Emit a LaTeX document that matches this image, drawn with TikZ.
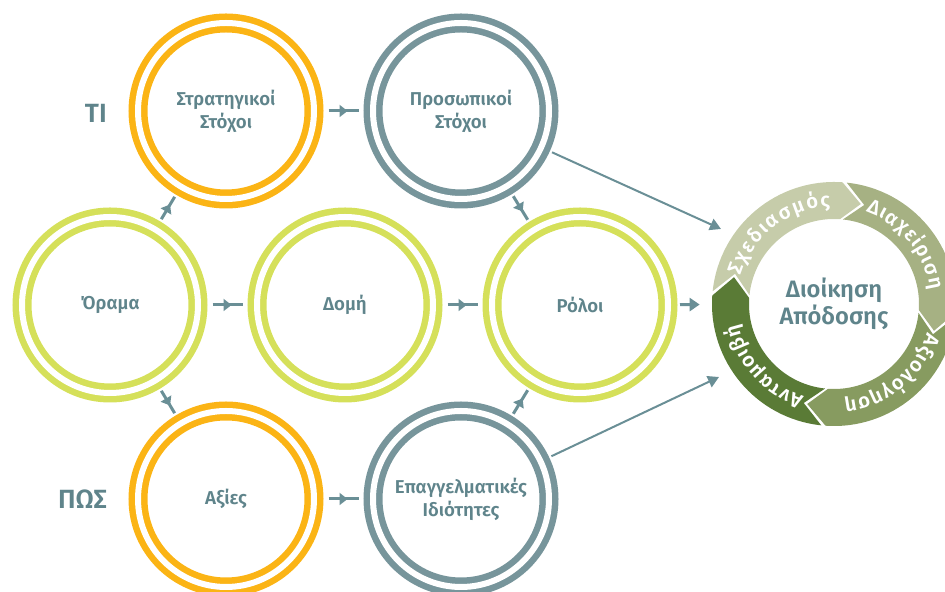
\documentclass[tikz,border=0pt]{standalone}
\usepackage{fontspec}
\setmainfont{Fira Sans}[BoldFont={Fira Sans SemiBold}]
\usetikzlibrary{arrows.meta,decorations.markings,decorations.text}
\definecolor{ringorange}{HTML}{FBB415}
\definecolor{ringlime}{HTML}{D5E05A}
\definecolor{ringslate}{HTML}{77959B}
\definecolor{textslate}{HTML}{5F848B}
\definecolor{arrowslate}{HTML}{6A8F96}
\definecolor{cycleA}{HTML}{C6CCAA}
\definecolor{cycleB}{HTML}{A6B183}
\definecolor{cycleC}{HTML}{879B60}
\definecolor{cycleD}{HTML}{5A7B36}
\begin{document}
\begin{tikzpicture}
	\tikzstyle{ring node} = [circle, minimum size=3.52cm, inner sep=0pt, outer sep=0.24cm, line width=0.13cm, double=white, double distance=0.12cm, align=center, text=textslate, font=\fontsize{10.6}{13}\selectfont\bfseries]
	\tikzstyle{flow line} = [draw=arrowslate, line width=0.06cm, postaction={decorate}, decoration={markings, mark=at position 0.5 with {\fill[arrowslate] (0.08cm,0) -- (-0.08cm,0.125cm) -- (-0.08cm,-0.125cm) -- cycle;}}]
	\tikzstyle{long line} = [draw=arrowslate, line width=0.04cm, -{Triangle[length=0.22cm,width=0.24cm]}]
	\tikzstyle{side label} = [anchor=east, text=textslate, font=\fontsize{15}{17}\selectfont\bfseries]
	\tikzstyle{arc text} = [decorate, decoration={text effects along path, text effects/.cd, text along path, fit text to path, characters={text=white, inner sep=0pt, anchor=base, font=\fontsize{11.5}{13}\selectfont\bfseries}}]
	\clip (0,0) rectangle (18.9,11.84);
	\node[side label] (ti) at (2.26,9.58) {ΤΙ};
	\node[side label] (pos) at (2.26,1.86) {ΠΩΣ};
	\node[ring node, draw=ringorange] (strat) at (4.52,9.62) {Στρατηγικοί\\Στόχοι};
	\node[ring node, draw=ringslate] (pros) at (9.22,9.62) {Προσωπικοί\\Στόχοι};
	\node[ring node, draw=ringlime] (orama) at (2.2,5.74) {Όραμα};
	\node[ring node, draw=ringlime] (domi) at (6.9,5.74) {Δομή};
	\node[ring node, draw=ringlime] (roloi) at (11.6,5.74) {Ρόλοι};
	\node[ring node, draw=ringorange] (axies) at (4.52,1.86) {Αξίες};
	\node[ring node, draw=ringslate] (epag) at (9.22,1.86) {Επαγγελματικές\\Ιδιότητες};
	\node[circle, minimum size=4.88cm, inner sep=0pt, align=center, text=textslate, font=\fontsize{13.5}{15.5}\selectfont\bfseries] (cycle) at (16.68,5.76) {Διοίκηση\\Απόδοσης};
	\coordinate (in1) at (14.42,7.26);
	\coordinate (in2) at (14.38,4.3);
	\path (strat) edge[flow line, shorten <=0.05cm, shorten >=0.05cm] (pros);
	\path (orama) edge[flow line, shorten <=0.05cm, shorten >=0.05cm] (domi);
	\path (domi) edge[flow line, shorten <=0.05cm, shorten >=0.05cm] (roloi);
	\path (axies) edge[flow line, shorten <=0.05cm, shorten >=0.05cm] (epag);
	\path (orama) edge[flow line] (strat);
	\path (orama) edge[flow line] (axies);
	\path (pros) edge[flow line] (roloi);
	\path (epag) edge[flow line] (roloi);
	\path (roloi) edge[draw=arrowslate, line width=0.06cm, -{Triangle[length=0.2cm,width=0.26cm]}, shorten >=0.24cm] (cycle);
	\path (pros) edge[long line] (in1);
	\path (epag) edge[long line] (in2);
	\begin{scope}[shift={(cycle.center)}]
		\foreach \m/\col in {130/cycleA, 40/cycleB, -50/cycleC, -140/cycleD}
			\fill[\col] (\m+44:2.44) arc[start angle=\m+44, end angle=\m-44, radius=2.44] -- (\m-55:2.07) -- (\m-44:1.7) arc[start angle=\m-44, end angle=\m+44, radius=1.7] -- (\m+33:2.07) -- cycle;
		\path[arc text, decoration={text={Σχεδιασμός}}] (163:1.95) arc[start angle=163, end angle=92, radius=1.95];
		\path[arc text, decoration={text={Διαχείριση}}] (71:1.95) arc[start angle=71, end angle=8, radius=1.95];
		\path[arc text, decoration={text={Αξιολόγηση}}] (-17:1.95) arc[start angle=-17, end angle=-84, radius=1.95];
		\path[arc text, decoration={text={Ανταμοιβή}}] (-108:1.95) arc[start angle=-108, end angle=-168, radius=1.95];
	\end{scope}
\end{tikzpicture}
\end{document}
